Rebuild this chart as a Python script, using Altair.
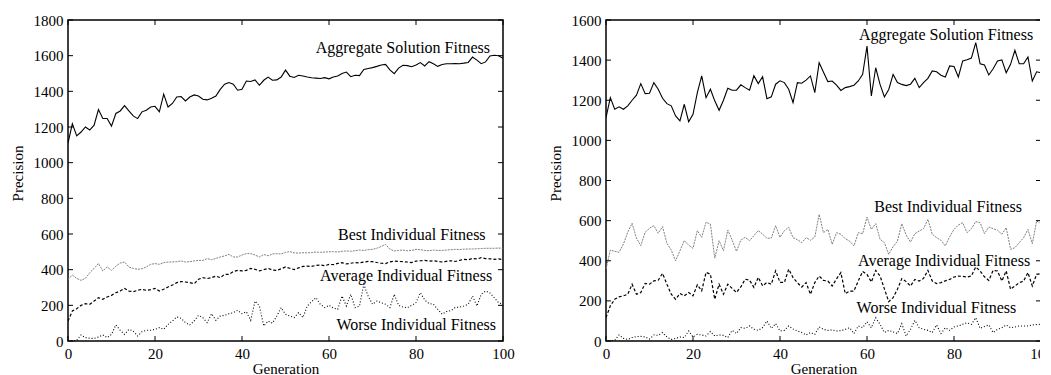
import altair as alt
import pandas as pd

generations = list(range(101))

series_names = ["Aggregate Solution Fitness", "Best Individual Fitness",
                "Average Individual Fitness", "Worse Individual Fitness"]

left_aggregate = [1110, 1218, 1150, 1172, 1200, 1183, 1210, 1298, 1248, 1248,
                  1205, 1276, 1290, 1320, 1290, 1262, 1247, 1285, 1294, 1312,
                  1316, 1285, 1384, 1312, 1332, 1368, 1371, 1346, 1368, 1380,
                  1374, 1356, 1352, 1361, 1374, 1411, 1440, 1449, 1440, 1406,
                  1411, 1458, 1455, 1464, 1434, 1462, 1480, 1462, 1464, 1480,
                  1519, 1485, 1478, 1490, 1486, 1480, 1476, 1474, 1472, 1477,
                  1470, 1480, 1486, 1500, 1508, 1482, 1490, 1488, 1523, 1528,
                  1533, 1540, 1548, 1551, 1520, 1499, 1530, 1546, 1544, 1538,
                  1548, 1561, 1542, 1566, 1555, 1540, 1550, 1555, 1555, 1556,
                  1555, 1558, 1562, 1592, 1575, 1555, 1565, 1598, 1602, 1600,
                  1585]
left_best = [346, 370, 351, 340, 351, 383, 407, 435, 393, 415,
             396, 420, 437, 443, 415, 407, 402, 405, 415, 430,
             434, 430, 439, 443, 443, 445, 449, 443, 445, 449,
             452, 452, 462, 456, 463, 471, 477, 486, 471, 471,
             482, 490, 490, 482, 471, 485, 478, 488, 490, 488,
             497, 501, 494, 493, 495, 494, 496, 499, 497, 499,
             500, 501, 499, 503, 505, 503, 506, 510, 508, 512,
             514, 520, 530, 542, 515, 505, 508, 510, 506, 508,
             514, 512, 508, 506, 510, 508, 508, 510, 512, 514,
             513, 515, 516, 516, 517, 518, 520, 520, 520, 521,
             520]
left_average = [112, 168, 181, 200, 209, 206, 224, 243, 234, 247,
                256, 271, 280, 295, 280, 277, 284, 290, 284, 288,
                295, 280, 290, 303, 314, 327, 333, 331, 327, 321,
                346, 355, 350, 355, 364, 355, 374, 374, 389, 396,
                393, 396, 407, 402, 393, 400, 407, 398, 396, 405,
                415, 408, 400, 410, 418, 420, 418, 424, 426, 422,
                430, 428, 435, 439, 432, 436, 440, 438, 443, 446,
                445, 440, 436, 434, 444, 448, 446, 445, 443, 440,
                448, 450, 452, 448, 450, 446, 443, 447, 450, 446,
                452, 458, 455, 463, 460, 467, 462, 461, 458, 460,
                456]
left_worse = [0, 0, 4, 34, 19, 15, 15, 22, 34, 19,
              37, 90, 60, 37, 65, 56, 28, 52, 60, 60,
              65, 75, 65, 93, 112, 135, 127, 103, 90, 112,
              144, 131, 103, 153, 116, 140, 144, 153, 159, 172,
              153, 164, 116, 224, 196, 84, 112, 100, 140, 187,
              150, 140, 131, 159, 131, 196, 220, 243, 206, 187,
              200, 185, 178, 252, 196, 262, 187, 195, 318, 252,
              206, 224, 215, 206, 187, 262, 200, 190, 187, 200,
              215, 271, 230, 210, 206, 178, 150, 165, 170, 187,
              190, 196, 206, 252, 196, 262, 280, 270, 243, 215,
              206]

right_aggregate = [1113, 1213, 1155, 1167, 1155, 1172, 1200, 1225, 1283, 1233,
                   1235, 1288, 1255, 1210, 1183, 1172, 1122, 1097, 1180, 1093,
                   1130, 1238, 1322, 1213, 1255, 1197, 1150, 1200, 1260, 1250,
                   1250, 1277, 1263, 1250, 1322, 1283, 1317, 1208, 1217, 1280,
                   1297, 1288, 1255, 1188, 1288, 1285, 1300, 1321, 1238, 1387,
                   1340, 1293, 1296, 1275, 1249, 1263, 1268, 1275, 1296, 1329,
                   1470, 1221, 1362, 1279, 1216, 1254, 1329, 1288, 1279, 1273,
                   1280, 1309, 1263, 1288, 1309, 1346, 1342, 1325, 1316, 1371,
                   1368, 1316, 1396, 1402, 1410, 1487, 1382, 1376, 1326, 1357,
                   1396, 1401, 1337, 1379, 1449, 1382, 1382, 1416, 1296, 1342,
                   1337]
right_best = [358, 453, 447, 442, 483, 542, 587, 513, 475, 542,
              562, 575, 537, 570, 487, 453, 400, 450, 500, 478,
              462, 550, 517, 592, 583, 413, 500, 450, 553, 503,
              447, 503, 517, 500, 525, 550, 533, 512, 513, 575,
              517, 550, 567, 515, 505, 490, 515, 502, 518, 631,
              540, 556, 482, 540, 532, 510, 498, 474, 540, 535,
              618, 556, 585, 507, 490, 432, 470, 498, 585, 528,
              493, 535, 548, 560, 606, 532, 515, 502, 474, 520,
              556, 578, 590, 540, 560, 595, 590, 535, 568, 560,
              552, 532, 565, 457, 465, 490, 515, 556, 485, 598,
              585]
right_average = [117, 175, 208, 220, 225, 233, 283, 233, 242, 287,
                 283, 300, 303, 337, 283, 233, 208, 237, 225, 242,
                 225, 280, 250, 342, 333, 208, 283, 233, 283, 262,
                 242, 270, 308, 303, 267, 317, 275, 292, 283, 350,
                 292, 292, 358, 316, 290, 269, 291, 233, 291, 324,
                 302, 299, 274, 310, 341, 236, 249, 249, 300, 346,
                 332, 294, 352, 324, 260, 196, 216, 258, 311, 296,
                 274, 307, 299, 312, 352, 299, 286, 291, 300, 307,
                 319, 324, 322, 319, 324, 369, 349, 320, 302, 352,
                 349, 299, 349, 258, 274, 290, 299, 341, 274, 332,
                 336]
right_worse = [0, 0, 3, 30, 13, 8, 17, 22, 23, 20,
               10, 30, 28, 42, 20, 8, 13, 20, 17, 50,
               20, 33, 30, 25, 47, 25, 30, 28, 17, 53,
               37, 67, 63, 75, 58, 53, 67, 100, 63, 87,
               50, 53, 75, 60, 50, 42, 30, 42, 33, 70,
               58, 53, 55, 50, 52, 58, 66, 37, 75, 66,
               96, 66, 116, 83, 42, 53, 45, 37, 86, 25,
               58, 103, 66, 58, 53, 42, 80, 37, 66, 53,
               70, 75, 83, 91, 83, 116, 63, 72, 80, 42,
               58, 66, 80, 66, 70, 75, 75, 75, 80, 82,
               83]

x_ticks = [0, 20, 40, 60, 80, 100]
left_y_ticks = [0, 200, 400, 600, 800, 1000, 1200, 1400, 1600, 1800]
right_y_ticks = [0, 200, 400, 600, 800, 1000, 1200, 1400, 1600]

# label anchors (right end of each label, in data units)
left_label_gen = [97, 96, 97.5, 98.4]
left_label_val = [1645, 592, 362, 90]
right_label_gen = [98.2, 95.6, 97.5, 94.3]
right_label_val = [1525, 670, 399, 162]

FONT = "Liberation Serif"
W, H = 435, 321
TICK = 5

styles = {
    "Aggregate Solution Fitness": dict(color="black", strokeWidth=1.1),
    "Best Individual Fitness": dict(color="#808080", strokeWidth=1.0, strokeDash=[2, 1]),
    "Average Individual Fitness": dict(color="black", strokeWidth=1.2, strokeDash=[3, 2]),
    "Worse Individual Fitness": dict(color="black", strokeWidth=1.1, strokeDash=[1, 2]),
}


def panel(series, ymax, yticks, lab_gen, lab_val):
    xenc = alt.X("gen:Q", scale=alt.Scale(domain=[0, 100], nice=False, zero=False),
                 axis=alt.Axis(values=x_ticks, title="Generation", format="d",
                               labelFlush=False))
    yenc = alt.Y("val:Q", scale=alt.Scale(domain=[0, ymax], nice=False),
                 axis=alt.Axis(values=yticks, title="Precision", format="d"))
    layers = []
    for name, vals in zip(series_names, series):
        df = pd.DataFrame({"gen": generations, "val": vals})
        layers.append(alt.Chart(df).mark_line(clip=True, **styles[name]).encode(x=xenc, y=yenc))
    xt = pd.DataFrame({"gen": x_ticks})
    yt = pd.DataFrame({"val": yticks})
    layers.append(alt.Chart(xt).mark_rule(color="black", strokeWidth=1).encode(
        x=xenc, y=alt.value(H), y2=alt.value(H - TICK)))
    layers.append(alt.Chart(xt).mark_rule(color="black", strokeWidth=1).encode(
        x=xenc, y=alt.value(0), y2=alt.value(TICK)))
    layers.append(alt.Chart(yt).mark_rule(color="black", strokeWidth=1).encode(
        y=yenc, x=alt.value(0), x2=alt.value(TICK)))
    layers.append(alt.Chart(yt).mark_rule(color="black", strokeWidth=1).encode(
        y=yenc, x=alt.value(W - TICK), x2=alt.value(W)))
    ldf = pd.DataFrame({"gen": lab_gen, "val": lab_val, "label": series_names})
    layers.append(alt.Chart(ldf).mark_text(align="right", baseline="middle", font=FONT,
                                           fontSize=16, color="black").encode(
        x=xenc, y=yenc, text="label:N"))
    return alt.layer(*layers).properties(width=W, height=H)


left = panel([left_aggregate, left_best, left_average, left_worse], 1800, left_y_ticks,
             left_label_gen, left_label_val)
right = panel([right_aggregate, right_best, right_average, right_worse], 1600, right_y_ticks,
              right_label_gen, right_label_val)

chart = alt.hconcat(left, right, spacing=32).properties(
    padding={"left": 1, "top": 4, "right": -13, "bottom": 0}
).configure_view(stroke="black", strokeWidth=1.5).configure_axis(
    domain=False, ticks=False, grid=False,
    labelFont=FONT, labelFontSize=15, labelColor="black", labelPadding=5,
    titleFont=FONT, titleFontSize=15, titleColor="black", titleFontWeight="normal",
).configure_axisY(titlePadding=8, titleY=153).configure_axisX(titlePadding=0)

chart.save("out.html", embed_options={"renderer": "svg", "actions": False})
